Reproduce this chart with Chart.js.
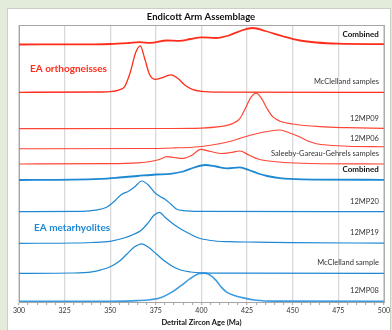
<!DOCTYPE html>
<html>
<head>
<meta charset="utf-8">
<script src="https://cdn.jsdelivr.net/npm/chart.js@4"></script>
<style>
  html, body { margin: 0; padding: 0; background: #e3ebdb; }
  canvas { display: block; }
</style>
</head>
<body>
<canvas id="chart" width="392" height="330"></canvas>
<script>
// density curves: age (Ma) and relative probability
const orthCombinedAge = [300, 340, 350, 360, 366, 372, 381, 388, 394, 400, 408, 415, 422, 428, 435, 445, 454, 463, 475, 500];
const orthCombinedDens = [0, 0.2, 0.5, 1.5, 2.3, 1.6, 4, 3.6, 5.5, 7.2, 6.5, 9, 14, 16.5, 13.5, 8, 4, 2, 0.8, 0.3];

const mcSamplesAge = [300, 345, 350, 355, 358, 361, 364, 366.5, 369, 371.5, 374.5, 379, 383.5, 387, 391, 395, 400, 410, 500];
const mcSamplesDens = [0, 0.3, 0.6, 2.5, 6, 20, 40, 46.5, 33, 18, 13, 15, 17.5, 14, 7, 3, 1, 0.2, 0];

const mp09Age = [300, 380, 400, 410, 415, 418, 421, 424, 427, 430, 433, 436, 439, 443, 450, 465, 480, 500];
const mp09Dens = [0, 0.2, 0.6, 2, 3.8, 6, 10, 20, 31, 35.5, 30, 20, 12, 7.5, 4.7, 2, 1, 0.3];

const mp06Age = [300, 370, 385, 395, 405, 415, 422, 430, 437, 443, 448, 453, 458, 463, 470, 480, 500];
const mp06Dens = [0, 0.2, 0.8, 1.5, 3.5, 7, 11, 15, 17.5, 18.7, 16, 12.5, 8, 5, 3.5, 2.5, 2];

const sggAge = [300, 350, 365, 372, 377, 381, 385, 390, 395, 399.5, 405, 411, 416, 421, 426, 431, 437, 445, 460, 500];
const sggDens = [0, 0.3, 1.2, 2.5, 4.5, 7.3, 6.5, 5.7, 9, 14.7, 12.5, 10.5, 11.5, 13, 9, 5, 3, 1.5, 0.5, 0];

const rhyCombinedAge = [300, 330, 345, 355, 365, 375, 383, 390, 396, 402, 408, 414, 421, 426, 431, 436, 443, 455, 500];
const rhyCombinedDens = [0, 0.3, 1.2, 2.5, 4, 5.5, 6.2, 8.5, 12.5, 15, 13.5, 11.7, 12.7, 10, 6.5, 4, 1.8, 0.6, 0.2];

const mp20Age = [300, 335, 342, 348, 352, 356, 360, 363.5, 367.3, 371, 374.5, 377.5, 380, 383, 386, 390, 400, 500];
const mp20Dens = [0, 0.3, 1.5, 4.5, 10, 17, 20.5, 25, 30.7, 26.5, 19, 15, 12.5, 8, 3, 1, 0.3, 0];

const mp19Age = [300, 330, 340, 350, 358, 363, 367, 371, 374, 377, 380, 384, 388, 393, 398, 405, 415, 430, 450, 500];
const mp19Dens = [0, 0.3, 0.8, 2, 5.5, 9, 13, 21, 28, 31, 26, 20, 15, 10, 5.5, 2.8, 1.6, 1.2, 0.6, 0.2];

const mcSampleAge = [300, 330, 340, 345, 350, 355, 359, 363, 367.3, 371, 375.5, 380, 384.5, 389, 394, 400, 420, 500];
const mcSampleDens = [0, 0.3, 1.5, 3.5, 6.6, 12, 19, 26, 29.5, 26, 19, 12, 6.6, 3, 1.3, 0.5, 0.1, 0];

const mp08Age = [300, 350, 365, 372, 378, 384, 389, 394, 399, 402, 405, 408, 411, 414, 418, 423, 430, 440, 500];
const mp08Dens = [0, 0.2, 0.8, 1.7, 4, 9.5, 16, 23, 27.8, 28.3, 26, 21, 14, 9, 6, 3.5, 1.2, 0.3, 0];

const seriesNames = ['Combined', 'McClelland samples', '12MP09', '12MP06', 'Saleeby-Gareau-Gehrels samples',
  'Combined', '12MP20', '12MP19', 'McClelland sample', '12MP08'];
const xTicks = [300, 325, 350, 375, 400, 425, 450, 475, 500];

const RED = '#ff2d1c';
const RED2 = '#ff4636';
const BLUE = '#1f88d2';

// stacking: each curve sits on its own baseline
const layers = [
  { age: orthCombinedAge, dens: orthCombinedDens, base: 257.5, color: RED, width: 1.8, bold: true },
  { age: mcSamplesAge, dens: mcSamplesDens, base: 209.7, color: RED, width: 1.3 },
  { age: mp09Age, dens: mp09Dens, base: 173.3, color: RED2, width: 1.2 },
  { age: mp06Age, dens: mp06Dens, base: 153.3, color: RED2, width: 1.1 },
  { age: sggAge, dens: sggDens, base: 138, color: RED2, width: 1.2 },
  { age: rhyCombinedAge, dens: rhyCombinedDens, base: 122, color: BLUE, width: 1.8, bold: true },
  { age: mp20Age, dens: mp20Dens, base: 90.3, color: BLUE, width: 1.2 },
  { age: mp19Age, dens: mp19Dens, base: 58.7, color: BLUE, width: 1.2 },
  { age: mcSampleAge, dens: mcSampleDens, base: 28.7, color: BLUE, width: 1.2 },
  { age: mp08Age, dens: mp08Dens, base: 0.6, color: '#3d9be0', width: 1.6 }
];

const datasets = layers.map((l, i) => ({
  label: seriesNames[i],
  data: l.age.map((a, j) => ({ x: a, y: l.base + l.dens[j] })),
  borderColor: l.color,
  borderWidth: l.width,
  pointRadius: 0,
  fill: false,
  cubicInterpolationMode: 'monotone'
}));

const FONT = 'Lato, "Open Sans", sans-serif';

const decor = {
  id: 'decor',
  beforeDraw(chart) {
    const c = chart.ctx;
    c.save();
    c.fillStyle = '#e3ebdb';
    c.fillRect(0, 0, chart.width, chart.height);
    c.fillStyle = '#ffffff';
    c.fillRect(7, 8, 383, 330);
    c.strokeStyle = '#c9cfc4';
    c.lineWidth = 1;
    c.strokeRect(7.5, 8.5, 383, 330);
    c.restore();
  },
  beforeDatasetsDraw(chart) {
    const c = chart.ctx, a = chart.chartArea;
    c.save();
    c.strokeStyle = '#a6a6a6';
    c.lineWidth = 1;
    c.strokeRect(a.left + 0.5, a.top + 0.5, a.right - a.left, a.bottom - a.top);
    c.restore();
  },
  afterDraw(chart) {
    const c = chart.ctx, a = chart.chartArea, y = chart.scales.y;
    c.save();
    c.textBaseline = 'middle';
    c.fillStyle = '#111';
    c.textAlign = 'center';
    c.font = 'bold 9.5px ' + FONT;
    c.fillText('Endicott Arm Assemblage', 201, 17);

    c.textAlign = 'right';
    layers.forEach((l, i) => {
      c.font = (l.bold ? 'bold 8px ' : '7.5px ') + FONT;
      c.fillStyle = l.bold ? '#111' : '#333';
      c.fillText(seriesNames[i], a.right - 5, y.getPixelForValue(l.base) - 10.5);
    });

    c.textAlign = 'left';
    c.font = 'bold 10px ' + FONT;
    c.fillStyle = RED;
    c.fillText('EA orthogneisses', 30, 69);
    c.fillStyle = BLUE;
    c.fillText('EA metarhyolites', 34, 228);
    c.restore();
  }
};

new Chart(document.getElementById('chart'), {
  type: 'line',
  data: { datasets },
  options: {
    responsive: false,
    animation: false,
    layout: { padding: { left: 19, right: 8, top: 25, bottom: 0 } },
    plugins: { legend: { display: false }, tooltip: { enabled: false } },
    scales: {
      x: {
        type: 'linear',
        min: 300,
        max: 500,
        afterFit(scale) { scale.height = 28; },
        ticks: {
          stepSize: 5,
          autoSkip: false,
          maxRotation: 0,
          padding: 2,
          color: '#333',
          font: { family: FONT, size: 7 },
          callback: v => (xTicks.includes(v) ? v : '')
        },
        grid: {
          color: ctx => (ctx.tick && ctx.tick.value % 25 === 0 ? '#d9d9d9' : 'rgba(0,0,0,0)'),
          lineWidth: 1.3,
          tickColor: '#a0a0a0',
          tickLength: 3,
          tickWidth: 1
        },
        border: { color: '#a0a0a0' },
        title: {
          display: true,
          text: 'Detrital Zircon Age (Ma)',
          color: '#111',
          font: { family: FONT, size: 7.5, weight: 'bold' },
          padding: { top: 0, bottom: 2.5 }
        }
      },
      y: { display: false, min: 0, max: 277 }
    }
  },
  plugins: [decor]
});
</script>
</body>
</html>
